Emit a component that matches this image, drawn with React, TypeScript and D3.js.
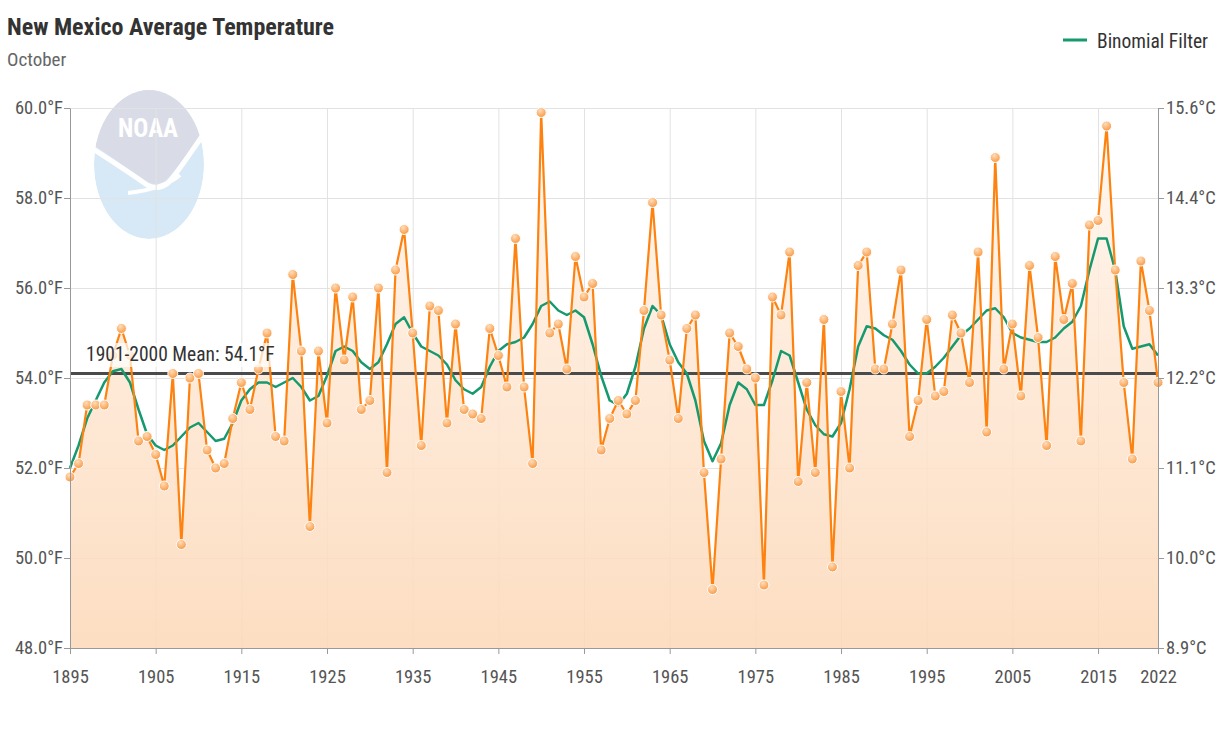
import { useEffect, useRef } from 'react';
import * as d3 from 'd3';

// October average temperature (°F), New Mexico, 1895 -> 2022
const firstYear = 1895;
const lastYear = 2022;

const temperatures = [
  51.8, 52.1, 53.4, 53.4, 53.4, 54.5, 55.1, 54.5, 52.6, 52.7,
  52.3, 51.6, 54.1, 50.3, 54.0, 54.1, 52.4, 52.0, 52.1, 53.1,
  53.9, 53.3, 54.2, 55.0, 52.7, 52.6, 56.3, 54.6, 50.7, 54.6,
  53.0, 56.0, 54.4, 55.8, 53.3, 53.5, 56.0, 51.9, 56.4, 57.3,
  55.0, 52.5, 55.6, 55.5, 53.0, 55.2, 53.3, 53.2, 53.1, 55.1,
  54.5, 53.8, 57.1, 53.8, 52.1, 59.9, 55.0, 55.2, 54.2, 56.7,
  55.8, 56.1, 52.4, 53.1, 53.5, 53.2, 53.5, 55.5, 57.9, 55.4,
  54.4, 53.1, 55.1, 55.4, 51.9, 49.3, 52.2, 55.0, 54.7, 54.2,
  54.0, 49.4, 55.8, 55.4, 56.8, 51.7, 53.9, 51.9, 55.3, 49.8,
  53.7, 52.0, 56.5, 56.8, 54.2, 54.2, 55.2, 56.4, 52.7, 53.5,
  55.3, 53.6, 53.7, 55.4, 55.0, 53.9, 56.8, 52.8, 58.9, 54.2,
  55.2, 53.6, 56.5, 54.9, 52.5, 56.7, 55.3, 56.1, 52.6, 57.4,
  57.5, 59.6, 56.4, 53.9, 52.2, 56.6, 55.5, 53.9,
];

const binomialFilter = [
  52.0, 52.5, 53.1, 53.5, 53.9, 54.15, 54.2, 53.9, 53.3, 52.75,
  52.5, 52.4, 52.5, 52.7, 52.9, 53.0, 52.8, 52.6, 52.65, 53.0,
  53.5, 53.75, 53.9, 53.9, 53.8, 53.9, 54.0, 53.8, 53.5, 53.6,
  54.05, 54.6, 54.7, 54.6, 54.35, 54.2, 54.35, 54.75, 55.2, 55.35,
  55.0, 54.7, 54.6, 54.5, 54.3, 53.95, 53.75, 53.65, 53.8, 54.25,
  54.6, 54.75, 54.8, 54.9, 55.2, 55.6, 55.7, 55.5, 55.4, 55.5,
  55.35, 54.75, 54.05, 53.5, 53.4, 53.65, 54.25, 55.1, 55.6, 55.4,
  54.75, 54.35, 54.1, 53.5, 52.6, 52.15, 52.55, 53.4, 53.9, 53.75,
  53.4, 53.4, 53.95, 54.6, 54.5, 53.9, 53.3, 52.95, 52.75, 52.7,
  53.0, 53.75, 54.7, 55.15, 55.1, 54.95, 54.85, 54.6, 54.3, 54.1,
  54.1, 54.25, 54.45, 54.7, 54.95, 55.1, 55.3, 55.5, 55.55, 55.35,
  55.0, 54.9, 54.85, 54.8, 54.8, 54.9, 55.1, 55.25, 55.6, 56.4,
  57.1, 57.1, 56.4, 55.15, 54.65, 54.7, 54.75, 54.5,
];

const meanValue = 54.1;
const yearTicks = [1895, 1905, 1915, 1925, 1935, 1945, 1955, 1965, 1975, 1985, 1995, 2005, 2015, 2022];
const fahrenheitTicks = [48, 50, 52, 54, 56, 58, 60];

const FONT = '"Liberation Sans Narrow", "Arial Narrow", "Roboto Condensed", Roboto, sans-serif';

function App() {
  const ref = useRef<SVGSVGElement>(null);

  const svgWidth = 1226;
  const svgHeight = 744;

  useEffect(() => {
    drawChart();
  }, []);

  function drawChart() {
    const left = 70;
    const right = 1158;
    const top = 108;
    const bottom = 648;

    const svg = d3.select(ref.current);
    svg.selectAll('*').remove();

    const years = d3.range(firstYear, lastYear + 1);
    const data = years.map((year, i) => ({
      year,
      temp: temperatures[i],
      filter: binomialFilter[i],
    }));

    const x = d3.scaleLinear().domain([firstYear, lastYear]).range([left, right]);
    const y = d3.scaleLinear().domain([48, 60]).range([bottom, top]);

    // gradients + clip for the logo
    const defs = svg.append('defs');
    const areaGrad = defs
      .append('linearGradient')
      .attr('id', 'areaFill')
      .attr('gradientUnits', 'userSpaceOnUse')
      .attr('x1', 0)
      .attr('x2', 0)
      .attr('y1', top)
      .attr('y2', bottom);
    areaGrad.append('stop').attr('offset', 0).attr('stop-color', '#fff8f1');
    areaGrad.append('stop').attr('offset', 0.45).attr('stop-color', '#fee8d5');
    areaGrad.append('stop').attr('offset', 1).attr('stop-color', '#fcd9b9');

    const markerGrad = defs
      .append('radialGradient')
      .attr('id', 'markerFill')
      .attr('cx', 0.4)
      .attr('cy', 0.3)
      .attr('r', 0.7);
    markerGrad.append('stop').attr('offset', 0).attr('stop-color', '#ffdcb8');
    markerGrad.append('stop').attr('offset', 1).attr('stop-color', '#f99a45');

    defs
      .append('clipPath')
      .attr('id', 'logoClip')
      .append('ellipse')
      .attr('cx', 149)
      .attr('cy', 164.5)
      .attr('rx', 55)
      .attr('ry', 74.5);

    // NOAA watermark
    const logo = svg.append('g').attr('clip-path', 'url(#logoClip)');
    logo
      .append('ellipse')
      .attr('cx', 149)
      .attr('cy', 164.5)
      .attr('rx', 55)
      .attr('ry', 74.5)
      .attr('fill', '#d7e9f7');
    logo
      .append('path')
      .attr('d', 'M 90 85 L 210 85 L 210 127 L 203 130 C 190 150, 178 168, 166 180 C 160 185, 152 185, 146 181 C 130 170, 110 156, 90 143 Z')
      .attr('fill', '#d9dce7');
    logo
      .append('path')
      .attr('d', 'M 90 147 C 110 160, 130 173, 147 185 C 155 189, 162 188, 168 183 C 180 170, 192 150, 208 128')
      .attr('fill', 'none')
      .attr('stroke', '#fff')
      .attr('stroke-width', 5);
    logo
      .append('path')
      .attr('d', 'M 128 193 C 145 191, 166 187, 180 175')
      .attr('fill', 'none')
      .attr('stroke', '#fff')
      .attr('stroke-width', 4);
    logo
      .append('text')
      .attr('x', 148)
      .attr('y', 137)
      .attr('text-anchor', 'middle')
      .attr('fill', '#fff')
      .style('font', `bold 25px ${FONT}`)
      .text('NOAA');

    // grid
    const grid = svg.append('g').attr('stroke', '#e2e2e2').attr('stroke-width', 1);
    grid
      .selectAll('line.h')
      .data(fahrenheitTicks.filter((t) => t !== 48))
      .join('line')
      .attr('x1', left)
      .attr('x2', right)
      .attr('y1', (d) => y(d) + 0.5)
      .attr('y2', (d) => y(d) + 0.5);
    grid
      .selectAll('line.v')
      .data(yearTicks)
      .join('line')
      .attr('x1', (d) => x(d) + 0.5)
      .attr('x2', (d) => x(d) + 0.5)
      .attr('y1', top)
      .attr('y2', bottom);

    // area under the series
    svg
      .append('path')
      .datum(data)
      .attr('fill', 'url(#areaFill)')
      .attr('fill-opacity', 0.88)
      .attr(
        'd',
        d3
          .area<{ year: number; temp: number }>()
          .x((d) => x(d.year))
          .y0(bottom)
          .y1((d) => y(d.temp))
      );

    // 20th century mean
    svg
      .append('line')
      .attr('x1', left)
      .attr('x2', right)
      .attr('y1', y(meanValue))
      .attr('y2', y(meanValue))
      .attr('stroke', '#4a4a4a')
      .attr('stroke-width', 3);

    // binomial filter
    svg
      .append('path')
      .datum(data)
      .attr('fill', 'none')
      .attr('stroke', '#16996e')
      .attr('stroke-width', 2.5)
      .attr('stroke-linejoin', 'round')
      .attr(
        'd',
        d3
          .line<{ year: number; filter: number }>()
          .x((d) => x(d.year))
          .y((d) => y(d.filter))
      );

    // temperatures
    svg
      .append('path')
      .datum(data)
      .attr('fill', 'none')
      .attr('stroke', '#fd8210')
      .attr('stroke-width', 2.2)
      .attr('stroke-linejoin', 'round')
      .attr(
        'd',
        d3
          .line<{ year: number; temp: number }>()
          .x((d) => x(d.year))
          .y((d) => y(d.temp))
      );

    svg
      .append('g')
      .selectAll('circle')
      .data(data)
      .join('circle')
      .attr('cx', (d) => x(d.year))
      .attr('cy', (d) => y(d.temp))
      .attr('r', 5)
      .attr('fill', 'url(#markerFill)')
      .attr('stroke', '#fff')
      .attr('stroke-width', 1);

    // mean label
    svg
      .append('rect')
      .attr('x', 83)
      .attr('y', 343)
      .attr('width', 192)
      .attr('height', 24)
      .attr('fill', '#fff')
      .attr('fill-opacity', 0.7);
    svg
      .append('text')
      .attr('x', 86)
      .attr('y', 361)
      .attr('fill', '#333')
      .style('font', `19.5px ${FONT}`)
      .text(`1901-2000 Mean: ${meanValue}°F`);

    // axes
    const styleAxis = (g: d3.Selection<SVGGElement, unknown, null, undefined>) => {
      g.select('.domain').attr('stroke', '#999');
      g.selectAll('.tick line').attr('stroke', '#999');
      g.selectAll('.tick text').attr('fill', '#555').style('font', `18.5px ${FONT}`);
    };

    svg
      .append('g')
      .attr('transform', `translate(${left}, 0)`)
      .call(
        d3
          .axisLeft(y)
          .tickValues(fahrenheitTicks)
          .tickFormat((d) => `${(d as number).toFixed(1)}°F`)
          .tickSize(6)
          .tickSizeOuter(0)
          .tickPadding(1)
      )
      .call(styleAxis);

    svg
      .append('g')
      .attr('transform', `translate(${right}, 0)`)
      .call(
        d3
          .axisRight(y)
          .tickValues(fahrenheitTicks)
          .tickFormat((d) => `${((((d as number) - 32) * 5) / 9).toFixed(1)}°C`)
          .tickSize(6)
          .tickSizeOuter(0)
          .tickPadding(2)
      )
      .call(styleAxis);

    svg
      .append('g')
      .attr('transform', `translate(0, ${bottom})`)
      .call(
        d3
          .axisBottom(x)
          .tickValues(yearTicks)
          .tickFormat(d3.format('d'))
          .tickSize(6)
          .tickSizeOuter(0)
          .tickPadding(16)
      )
      .call(styleAxis);

    // title
    svg
      .append('text')
      .attr('x', 7)
      .attr('y', 35)
      .attr('fill', '#333')
      .style('font', `bold 24px ${FONT}`)
      .text('New Mexico Average Temperature');
    svg
      .append('text')
      .attr('x', 7)
      .attr('y', 66)
      .attr('fill', '#666')
      .style('font', `19px ${FONT}`)
      .text('October');

    // legend
    svg
      .append('line')
      .attr('x1', 1063)
      .attr('x2', 1087)
      .attr('y1', 40)
      .attr('y2', 40)
      .attr('stroke', '#16996e')
      .attr('stroke-width', 3);
    svg
      .append('text')
      .attr('x', 1097)
      .attr('y', 48)
      .attr('fill', '#333')
      .style('font', `19.5px ${FONT}`)
      .text('Binomial Filter');
  }

  return (
    <svg
      ref={ref}
      width={svgWidth}
      height={svgHeight}
      style={{ position: 'absolute', left: 0, top: 0, background: '#fff' }}
    ></svg>
  );
}

export default App;
